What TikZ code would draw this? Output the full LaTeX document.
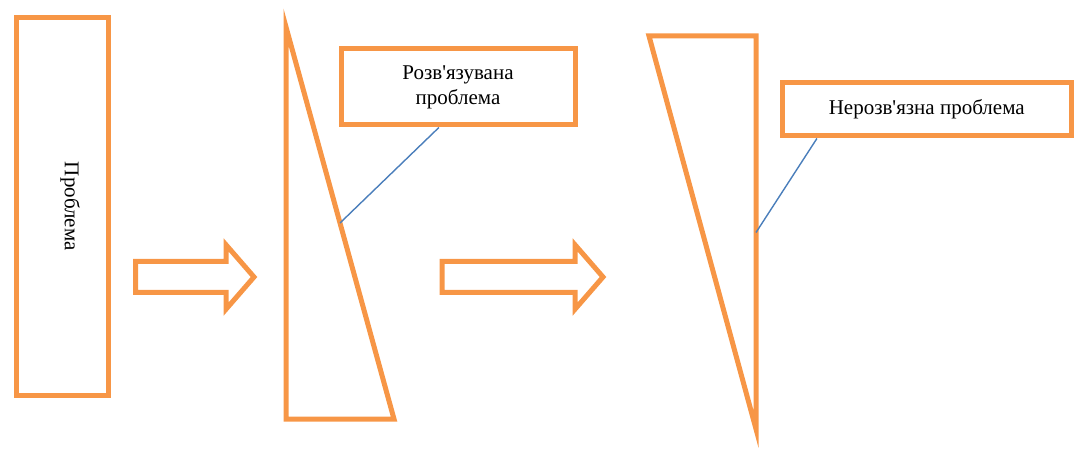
\documentclass[tikz,border=0pt]{standalone}
\usepackage{fontspec}
\setmainfont{Liberation Serif}
\usetikzlibrary{positioning,calc,shapes.arrows}
\definecolor{accorange}{HTML}{F79646}
\definecolor{accblue}{HTML}{4A7EBB}
\tikzset{
	outline/.style={
		draw=accorange, line width=5pt,
	},
	callbox/.style={
		rectangle, outline, fill=white,
		align=center, inner sep=0pt,
	},
	bigarrow/.style={
		single arrow, outline, inner sep=0pt, inner ysep=13pt, outer sep=0pt,
		single arrow head extend=16.5pt, single arrow tip angle=98,
		minimum height=#1, anchor=tail,
	},
	leader/.style={
		draw=accblue, line width=1.4pt,
	}
}

\begin{document}
\begin{tikzpicture}[x=1pt, y=-1pt, font=\fontsize{21}{25}\selectfont]
		\useasboundingbox (0,0) rectangle (1077,449);

		\node [rectangle, outline, minimum width=91.5pt, minimum height=377.5pt] (prob) at (62.25,206.25) {};
		\node [rotate=-90] (probtext) at ([xshift=8pt]prob.center) {Проблема};

		\node [bigarrow=118.5pt] (arr1) at (135.5,277) {};
		\node [bigarrow=161pt] (arr2) at (442,277) {};

		\coordinate (t1top) at (286,27);
		\coordinate (t1bl) at (286,419);
		\coordinate (t1br) at (394,419);
		\draw [outline] (t1top) -- (t1bl) -- (t1br) -- coordinate (t1mid) cycle;

		\coordinate (t2tl) at (649,36);
		\coordinate (t2tr) at (756,36);
		\coordinate (t2bot) at (756,429);
		\draw [outline] (t2tl) -- (t2tr) -- coordinate (t2mid) (t2bot) -- cycle;

		\node [callbox, minimum width=234pt, minimum height=76pt] (solved) at (458,87) {Розв\textquotesingle язувана\\проблема};
		\node [callbox, minimum width=289.5pt, minimum height=53.5pt] (unsolved) at (926.75,109.25) {Нерозв\textquotesingle язна проблема};

		\path [leader] ($(solved.south west)!.42!(solved.south east)$) -- (t1mid);
		\path [leader] ($(unsolved.south west)!.127!(unsolved.south east)$) -- (t2mid);
\end{tikzpicture}
\end{document}
